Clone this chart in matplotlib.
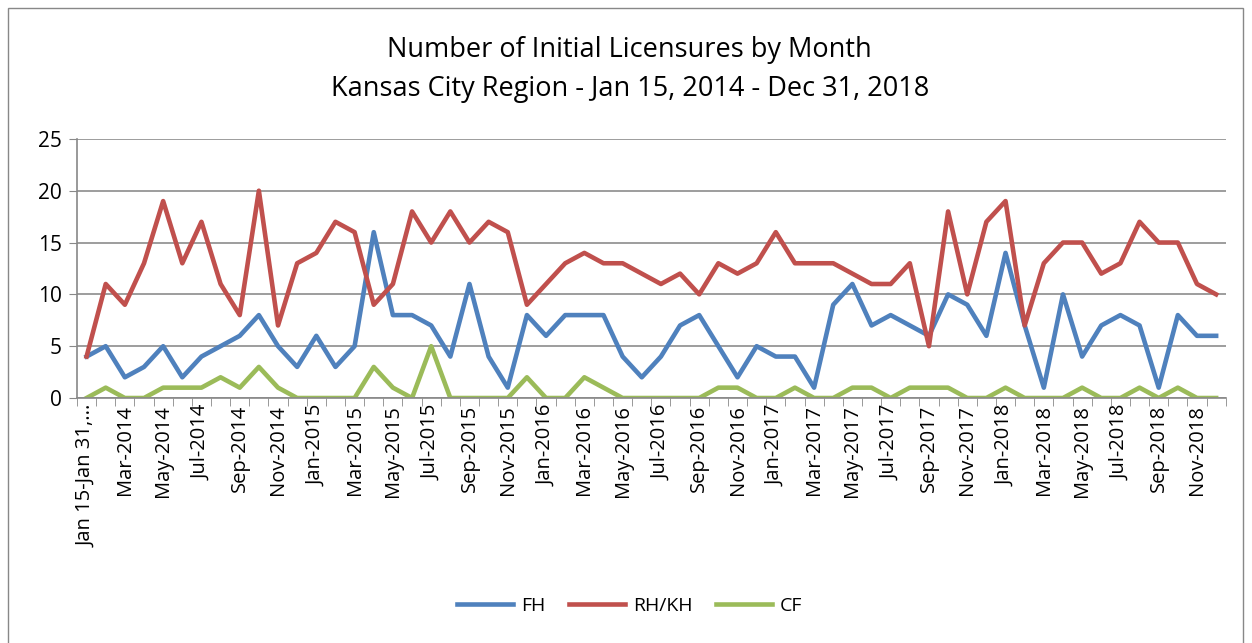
import matplotlib
matplotlib.use('Agg')
import matplotlib.pyplot as plt
from matplotlib.patches import Rectangle

# Monthly counts, Jan 2014 - Dec 2018
months = ['Jan 15-Jan 31,...']
for yr in range(2014, 2019):
    for m in ['Jan', 'Feb', 'Mar', 'Apr', 'May', 'Jun', 'Jul', 'Aug', 'Sep', 'Oct', 'Nov', 'Dec']:
        months.append(f'{m}-{yr}')
months = months[0:1] + months[2:]

fh = [4, 5, 2, 3, 5, 2, 4, 5, 6, 8, 5, 3,
      6, 3, 5, 16, 8, 8, 7, 4, 11, 4, 1, 8,
      6, 8, 8, 8, 4, 2, 4, 7, 8, 5, 2, 5,
      4, 4, 1, 9, 11, 7, 8, 7, 6, 10, 9, 6,
      14, 7, 1, 10, 4, 7, 8, 7, 1, 8, 6, 6]
rhkh = [4, 11, 9, 13, 19, 13, 17, 11, 8, 20, 7, 13,
        14, 17, 16, 9, 11, 18, 15, 18, 15, 17, 16, 9,
        11, 13, 14, 13, 13, 12, 11, 12, 10, 13, 12, 13,
        16, 13, 13, 13, 12, 11, 11, 13, 5, 18, 10, 17,
        19, 7, 13, 15, 15, 12, 13, 17, 15, 15, 11, 10]
cf = [0, 1, 0, 0, 1, 1, 1, 2, 1, 3, 1, 0,
      0, 0, 0, 3, 1, 0, 5, 0, 0, 0, 0, 2,
      0, 0, 2, 1, 0, 0, 0, 0, 0, 1, 1, 0,
      0, 1, 0, 0, 1, 1, 0, 1, 1, 1, 0, 0,
      1, 0, 0, 0, 1, 0, 0, 1, 0, 1, 0, 0]

plt.rcParams['font.family'] = ['Open Sans', 'DejaVu Sans']

fig = plt.figure(figsize=(12.52, 6.43), dpi=100)
ax = fig.add_axes([0.0615, 0.381, 0.9175, 0.403])

x = list(range(len(fh)))
ax.plot(x, fh, color='#4F81BD', lw=3.3, label='FH', solid_joinstyle='round')
ax.plot(x, rhkh, color='#C0504D', lw=3.3, label='RH/KH', solid_joinstyle='round')
ax.plot(x, cf, color='#9BBB59', lw=3.3, label='CF', solid_joinstyle='round')

ax.set_xlim(-0.5, len(fh) - 0.5)
ax.set_ylim(0, 25)
ax.set_yticks([0, 5, 10, 15, 20, 25])
ax.tick_params(axis='y', labelsize=15, length=6, color='#888888', pad=5)
ax.yaxis.grid(True, color='#8c8c8c', lw=1.2)
ax.set_axisbelow(True)

ax.set_xticks(x[::2])
ax.set_xticklabels(months[::2], rotation=90, fontsize=14.5)
ax.tick_params(axis='x', length=0, pad=5)
ax.set_xticks([i + 0.5 for i in range(-1, len(fh))], minor=True)
ax.tick_params(axis='x', which='minor', length=6, color='#888888')

for s in ['top', 'right']:
    ax.spines[s].set_visible(False)
ax.spines['left'].set_color('#888888')
ax.spines['bottom'].set_color('#888888')
ax.spines['left'].set_linewidth(1.2)
ax.spines['bottom'].set_linewidth(1.2)

fig.text(0.503, 0.922, 'Number of Initial Licensures by Month', ha='center', va='center', fontsize=19.5)
fig.text(0.503, 0.862, 'Kansas City Region - Jan 15, 2014 - Dec 31, 2018', ha='center', va='center', fontsize=19.5)

fig.legend(loc='center', bbox_to_anchor=(0.503, 0.058), ncol=3, frameon=False, fontsize=14,
           handlelength=2.9, handletextpad=0.4, columnspacing=1.2)

fig.patches.append(Rectangle((0.006, -0.01), 0.987, 0.998, transform=fig.transFigure,
                             fill=False, edgecolor='#888888', lw=1))

fig.savefig('out.png', dpi=100)
